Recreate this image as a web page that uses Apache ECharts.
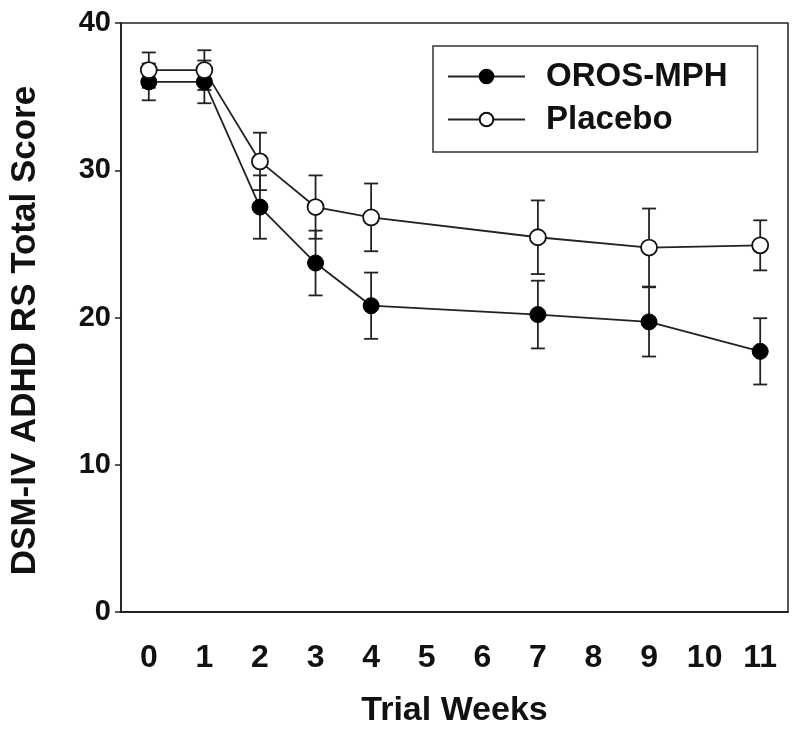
<!DOCTYPE html>
<html>
<head>
<meta charset="utf-8">
<script src="https://cdn.jsdelivr.net/npm/echarts@6/dist/echarts.min.js"></script>
<style>
html,body{margin:0;padding:0;background:#fff;}
#chart{width:800px;height:733px;}
</style>
</head>
<body>
<div id="chart"></div>
<script>
var weekLabels = ['0','1','2','3','4','5','6','7','8','9','10','11'];
var weeks = ['0','1','2','3','4','7','9','11'];
var orosMean = [36.0, 36.0, 27.5, 23.7, 20.8, 20.2, 19.7, 17.7];
var orosErr  = [1.25, 1.45, 2.15, 2.2, 2.25, 2.3, 2.35, 2.25];
var placeboMean = [36.8, 36.8, 30.6, 27.5, 26.8, 25.45, 24.75, 24.9];
var placeboErr  = [1.2, 1.35, 1.95, 2.15, 2.3, 2.5, 2.65, 1.7];
var yTicks = [0, 10, 20, 30, 40];

function pairs(xs, ys){ return xs.map(function(x,i){ return [x, ys[i]]; }); }
function errData(xs, ys, es){ return xs.map(function(x,i){ return [x, ys[i], ys[i]-es[i], ys[i]+es[i]]; }); }

function errRender(params, api){
  var x = api.value(0);
  var lo = api.coord([x, api.value(2)]);
  var hi = api.coord([x, api.value(3)]);
  var hw = 7;
  var st = {stroke:'#222', lineWidth:1.8};
  return {type:'group', children:[
    {type:'line', shape:{x1:lo[0], y1:lo[1], x2:hi[0], y2:hi[1]}, style:st},
    {type:'line', shape:{x1:lo[0]-hw, y1:lo[1], x2:lo[0]+hw, y2:lo[1]}, style:st},
    {type:'line', shape:{x1:hi[0]-hw, y1:hi[1], x2:hi[0]+hw, y2:hi[1]}, style:st}
  ]};
}

var FONT = '"Liberation Sans", Arial, sans-serif';
var chart = echarts.init(document.getElementById('chart'), null, {renderer:'canvas'});
chart.setOption({
  animation:false,
  backgroundColor:'#fff',
  grid:{left:120, right:12, top:23, bottom:119, show:true, borderColor:'#222', borderWidth:1.5, backgroundColor:'transparent'},
  legend:{
    orient:'vertical', left:433, top:46,
    padding:[14, 30, 16, 14],
    itemGap:10, itemWidth:77, itemHeight:17,
    borderColor:'#333', borderWidth:1.5,
    textStyle:{fontFamily:FONT, fontWeight:'bold', fontSize:33, color:'#111', padding:[0,0,0,16]},
    data:['OROS-MPH','Placebo']
  },
  xAxis:{
    type:'category', data:weekLabels, boundaryGap:true,
    name:'Trial Weeks', nameLocation:'middle', nameGap:82,
    nameTextStyle:{fontFamily:FONT, fontWeight:'bold', fontSize:34, color:'#111'},
    axisLine:{lineStyle:{color:'#222', width:1.8}},
    axisTick:{alignWithLabel:true, length:6, lineStyle:{color:'#222', width:1.5}},
    axisLabel:{fontFamily:FONT, fontWeight:'bold', fontSize:32, color:'#111', margin:30},
    splitLine:{show:false}
  },
  yAxis:{
    type:'value', min:yTicks[0], max:yTicks[yTicks.length-1], interval:10,
    name:'DSM-IV ADHD RS Total Score', nameLocation:'middle', nameGap:78, nameRotate:90,
    nameTextStyle:{fontFamily:FONT, fontWeight:'bold', fontSize:35, color:'#111', padding:[0, 26, 0, 0]},
    axisLine:{show:true, lineStyle:{color:'#222', width:1.8}},
    axisTick:{show:true, length:6, lineStyle:{color:'#222', width:1.5}},
    axisLabel:{fontFamily:FONT, fontWeight:'bold', fontSize:29, color:'#111', margin:10},
    splitLine:{show:false}
  },
  series:[
    {type:'custom', name:'oros-err', renderItem:errRender, data:errData(weeks, orosMean, orosErr), z:1, silent:true, encode:{x:0, y:[1,2,3]}},
    {type:'custom', name:'placebo-err', renderItem:errRender, data:errData(weeks, placeboMean, placeboErr), z:1, silent:true, encode:{x:0, y:[1,2,3]}},
    {type:'line', name:'OROS-MPH', data:pairs(weeks, orosMean), z:3,
     symbol:'circle', symbolSize:16,
     lineStyle:{color:'#222', width:1.8},
     itemStyle:{color:'#000', borderColor:'#000', borderWidth:1}},
    {type:'line', name:'Placebo', data:pairs(weeks, placeboMean), z:3,
     symbol:'circle', symbolSize:16,
     lineStyle:{color:'#222', width:1.8},
     itemStyle:{color:'#fff', borderColor:'#111', borderWidth:1.8}}
  ]
});
</script>
</body>
</html>
